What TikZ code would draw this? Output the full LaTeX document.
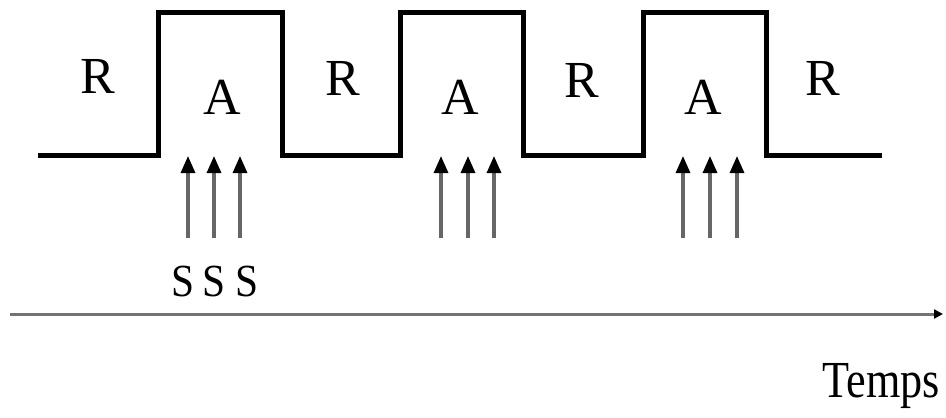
\documentclass[tikz,border=0pt]{standalone}
\usepackage{fontspec}
\setmainfont{Liberation Serif}
\usetikzlibrary{arrows.meta}
\begin{document}
\begin{tikzpicture}[x=1pt,y=-1pt,
  signal/.style={line width=5pt,black,line join=miter},
  label/.style={font=\fontsize{52}{52}\selectfont,inner sep=0pt},
  slabel/.style={font=\fontsize{46}{46}\selectfont,inner sep=0pt,xscale=0.9},
  sample/.style={line width=3.2pt,black!60,-{Triangle[length=17pt,width=14pt,black]}},
  axis/.style={line width=3pt,black!55,-{Triangle[length=9pt,width=9pt,black]}}]
\useasboundingbox (0,0) rectangle (946,418);
% square wave R/A
\draw[signal] (38,155) -- (158,155) -- (158,12) -- (282,12) -- (282,155)
  -- (400,155) -- (400,12) -- (523,12) -- (523,155)
  -- (643,155) -- (643,12) -- (766,12) -- (766,155) -- (882,155);
% phase labels
\node[label] (r1) at (98,76) {R};
\node[label] (a1) at (222,97) {A};
\node[label] (r2) at (343,78) {R};
\node[label] (a2) at (460,97) {A};
\node[label] (r3) at (582,80) {R};
\node[label] (a3) at (703,97) {A};
\node[label] (r4) at (823,78) {R};
% sampling arrows
\foreach \g/\xa/\xb/\xc in {1/188/214/240, 2/441/468/494, 3/683/710/737}{
  \coordinate (b\g a) at (\xa,238); \coordinate (t\g a) at (\xa,156);
  \coordinate (b\g b) at (\xb,238); \coordinate (t\g b) at (\xb,156);
  \coordinate (b\g c) at (\xc,238); \coordinate (t\g c) at (\xc,156);
  \draw[sample] (b\g a) -- (t\g a);
  \draw[sample] (b\g b) -- (t\g b);
  \draw[sample] (b\g c) -- (t\g c);
}
\node[slabel] (s1) at (183,281) {S};
\node[slabel] (s2) at (214,281) {S};
\node[slabel] (s3) at (247,281) {S};
% time axis
\coordinate (t0) at (10,314);
\coordinate (t1) at (943,314);
\draw[axis] (t0) -- (t1);
\node[label,anchor=east,xscale=0.85] (temps) at (940,386) {Temps};
\end{tikzpicture}
\end{document}
